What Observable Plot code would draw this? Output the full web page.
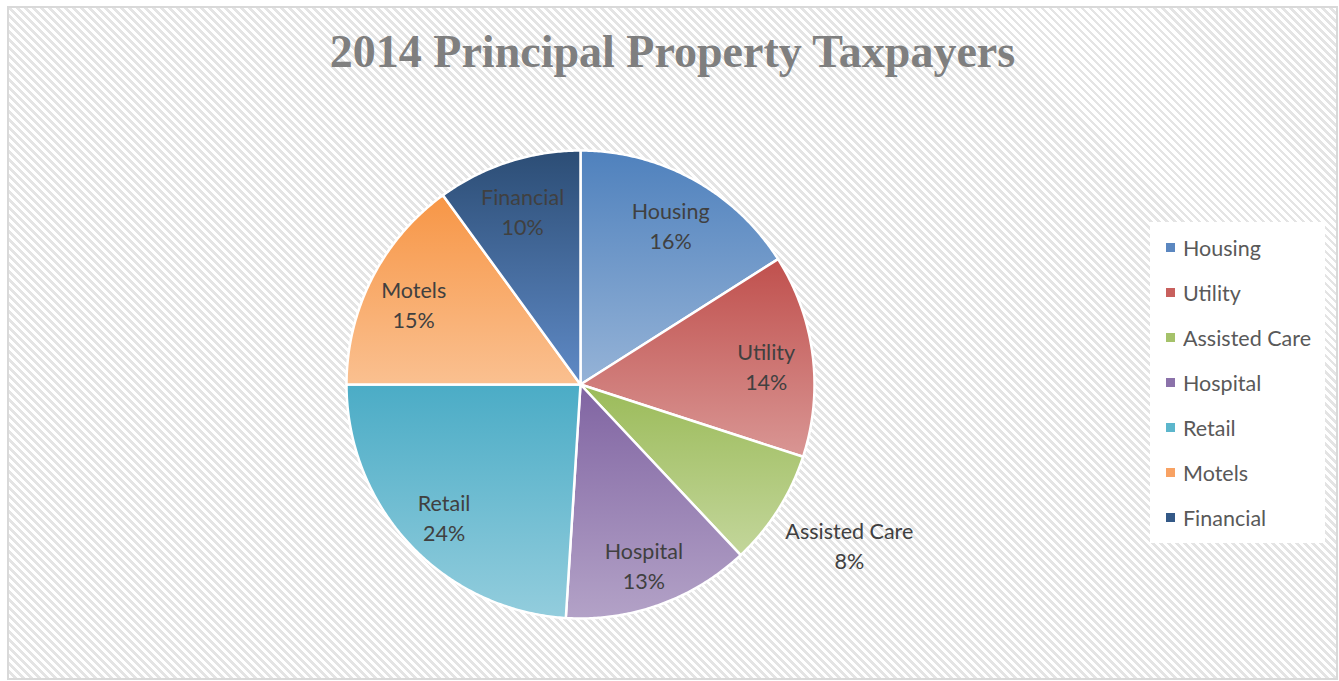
<!DOCTYPE html>
<html><head><meta charset="utf-8">
<script src="https://cdn.jsdelivr.net/npm/d3@7"></script>
<script src="https://cdn.jsdelivr.net/npm/@observablehq/plot@0.6"></script>
<style>
html,body{margin:0;padding:0;background:#fff;width:1339px;height:681px;overflow:hidden;position:relative;}
#bg{position:absolute;left:7px;top:6px;width:1331px;height:674px;box-sizing:border-box;border:2px solid #d9d9d9;
  background:repeating-linear-gradient(45deg,#ffffff 0px,#ffffff 2.9px,#e4e4e4 2.9px,#e4e4e4 5.66px);}
#plot{position:absolute;left:0;top:0;}
#title{position:absolute;left:7px;width:1331px;top:29px;text-align:center;font:bold 46px/46px "Liberation Serif",serif;color:#7f7f7f;white-space:nowrap;}
#legend{position:absolute;left:1150px;top:222px;width:175px;height:321px;background:#fff;box-sizing:border-box;padding:3px 0 0 16px;}
#legend *{font-family:Lato,sans-serif !important;font-size:21.5px !important;color:#595959 !important;}
#legend [class$="-swatch"]{height:45px !important;padding:0 !important;margin:0 !important;display:flex !important;align-items:center !important;}
#legend svg{margin-right:8px !important;}
</style></head><body>
<div id="bg"></div>
<div id="plot"></div>
<div id="title">2014 Principal Property Taxpayers</div>
<div id="legend"></div>
<script>
// ---- data ----
const categories = ["Housing", "Utility", "Assisted Care", "Hospital", "Retail", "Motels", "Financial"];
const shares = [16, 14, 8, 13, 24, 15, 10];

// ---- styles ----
const topColors = ["#4f81bd", "#c0504d", "#9bbb59", "#8064a2", "#4bacc6", "#f79646", "#2c4d75"];
const bottomColors = ["#95b3d7", "#d99694", "#c3d69b", "#b3a2c7", "#93cddd", "#fac090", "#5f8ac6"];
const legendColors = ["#5b87c0", "#c8605d", "#a5c26a", "#8b72aa", "#5cb6cc", "#f8a263", "#345987"];
const outsideLabels = new Set(["Assisted Care"]);
const cx = 580, cy = 384, r = 234;

const rows = categories.map((c, i) => ({cat: c, share: shares[i]}));
const arcs = d3.pie().sort(null).value(d => d.share)(rows);

const slicePts = [];
const labels = [];
arcs.forEach(a => {
  const c = a.data.cat;
  slicePts.push({cat: c, x: 0, y: 0});
  const n = Math.max(2, Math.ceil((a.endAngle - a.startAngle) / (Math.PI / 360)));
  for (let i = 0; i <= n; i++) {
    const t = a.startAngle + (a.endAngle - a.startAngle) * i / n;
    slicePts.push({cat: c, x: Math.sin(t), y: Math.cos(t)});
  }
  const mid = (a.startAngle + a.endAngle) / 2;
  const outside = outsideLabels.has(c);
  const k = outside ? 1.3 : 0.8;
  labels.push({cat: c, outside, x: k * Math.sin(mid), y: k * Math.cos(mid), text: `${c}\n${a.data.share}%`});
});

const defs = () => {
  const d = d3.create("svg:defs");
  categories.forEach((c, i) => {
    const g = d.append("linearGradient").attr("id", "grad" + i)
      .attr("x1", 0).attr("y1", 0).attr("x2", 0).attr("y2", 1);
    g.append("stop").attr("offset", "0%").attr("stop-color", topColors[i]);
    g.append("stop").attr("offset", "100%").attr("stop-color", bottomColors[i]);
  });
  return d.node();
};

const textStyle = {x: "x", y: "y", text: "text", fontSize: 21.5, fontFamily: "Lato", fill: "#404040", lineHeight: 1.4};

const chart = Plot.plot({
  width: 1339,
  height: 681,
  margin: 0,
  style: {background: "transparent", overflow: "visible"},
  x: {domain: [-1, 1], range: [cx - r, cx + r], axis: null},
  y: {domain: [-1, 1], range: [cy + r, cy - r], axis: null},
  color: {type: "ordinal", domain: categories, range: categories.map((c, i) => `url(#grad${i})`)},
  marks: [
    defs,
    Plot.line(slicePts, {x: "x", y: "y", z: "cat", fill: "cat", stroke: "white", strokeWidth: 2.5,
      strokeLinejoin: "round", curve: "linear-closed"}),
    Plot.text(labels.filter(d => !d.outside), {...textStyle, dy: 4}),
    Plot.text(labels.filter(d => d.outside), {...textStyle, dx: 12, dy: -3})
  ]
});
document.getElementById("plot").appendChild(chart);

const leg = Plot.legend({
  color: {type: "ordinal", domain: categories, range: legendColors},
  columns: 1,
  swatchSize: 9
});
document.getElementById("legend").appendChild(leg);
</script></body></html>
